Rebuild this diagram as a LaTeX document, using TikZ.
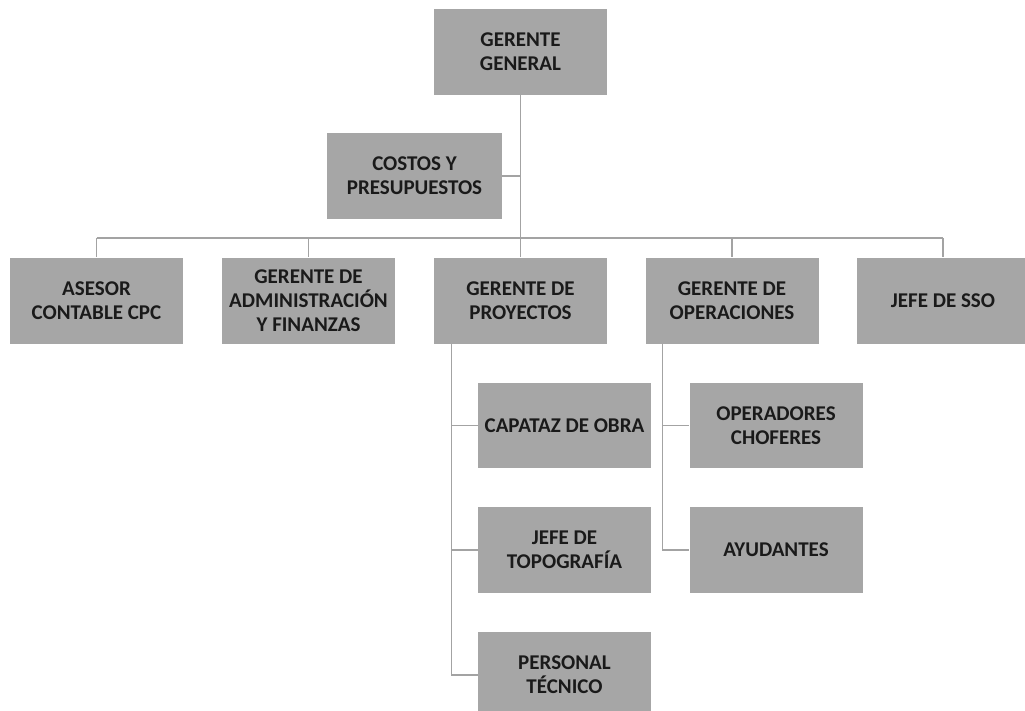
\documentclass[tikz,border=0pt]{standalone}
\usepackage{fontspec}
\setmainfont{Carlito}
\usetikzlibrary{calc}
\definecolor{boxgray}{HTML}{A6A6A6}
\definecolor{linegray}{HTML}{A3A3A3}
\definecolor{txt}{HTML}{1A1A1A}
\tikzset{
  orgbox/.style={rectangle, fill=boxgray, draw=none, minimum width=173pt, minimum height=86pt,
    inner sep=0pt, align=center, text=txt, font=\fontsize{21}{24}\selectfont\bfseries},
  conn/.style={draw=linegray, line width=1.3pt}
}
\begin{document}
\begin{tikzpicture}[x=1pt,y=-1pt]
\useasboundingbox (0,0) rectangle (1025,710);
\clip (0,0) rectangle (1025,710);
\fill[white] (0,0) rectangle (1025,710);
% nodes
\node[orgbox] (gg) at (520.5,52) {GERENTE\\GENERAL};
\node[orgbox, minimum width=175pt] (costos) at (414.5,176) {COSTOS Y\\PRESUPUESTOS};
\node[orgbox] (asesor) at (96.5,300.5) {ASESOR\\CONTABLE CPC};
\node[orgbox] (admin) at (308.5,300.5) {GERENTE DE\\ADMINISTRACIÓN\\Y FINANZAS};
\node[orgbox] (proy) at (520.5,300.5) {GERENTE DE\\PROYECTOS};
\node[orgbox] (oper) at (732,300.5) {GERENTE DE\\OPERACIONES};
\node[orgbox] (sso) at (943,300.5) {JEFE DE SSO};
\node[orgbox, minimum height=85pt] (capataz) at (564.5,425.5) {CAPATAZ DE OBRA};
\node[orgbox] (topo) at (564.5,550) {JEFE DE\\TOPOGRAFÍA};
\node[orgbox] (personal) at (564.5,675) {PERSONAL\\TÉCNICO};
\node[orgbox, minimum height=85pt] (operadores) at (776,425.5) {OPERADORES\\CHOFERES};
\node[orgbox] (ayudantes) at (776,550) {AYUDANTES};
% bus coordinates
\coordinate (busL) at (96.5,238);
\coordinate (busR) at (943,238);
\coordinate (busC) at (520.5,238);
% connectors
\draw[conn] (gg.south) -- (busC);
\draw[conn] (costos.east) -- (costos.east -| gg.south);
\draw[conn] (busL) -- (busR);
\draw[conn] (busL) -- (asesor.north);
\draw[conn] (admin.north |- busC) -- (admin.north);
\draw[conn] (busC) -- (proy.north);
\draw[conn] (oper.north |- busC) -- (oper.north);
\draw[conn] (busR) -- (sso.north);
% proyectos sub-tree
\coordinate (p0) at ($(proy.south west)+(18,0)$);
\draw[conn] (p0) -- (p0 |- personal.west) -- (personal.west);
\draw[conn] (p0 |- capataz.west) -- (capataz.west);
\draw[conn] (p0 |- topo.west) -- (topo.west);
% operaciones sub-tree
\coordinate (o0) at ($(oper.south west)+(17,0)$);
\draw[conn] (o0) -- (o0 |- ayudantes.west) -- (ayudantes.west);
\draw[conn] (o0 |- operadores.west) -- (operadores.west);
\end{tikzpicture}
\end{document}
